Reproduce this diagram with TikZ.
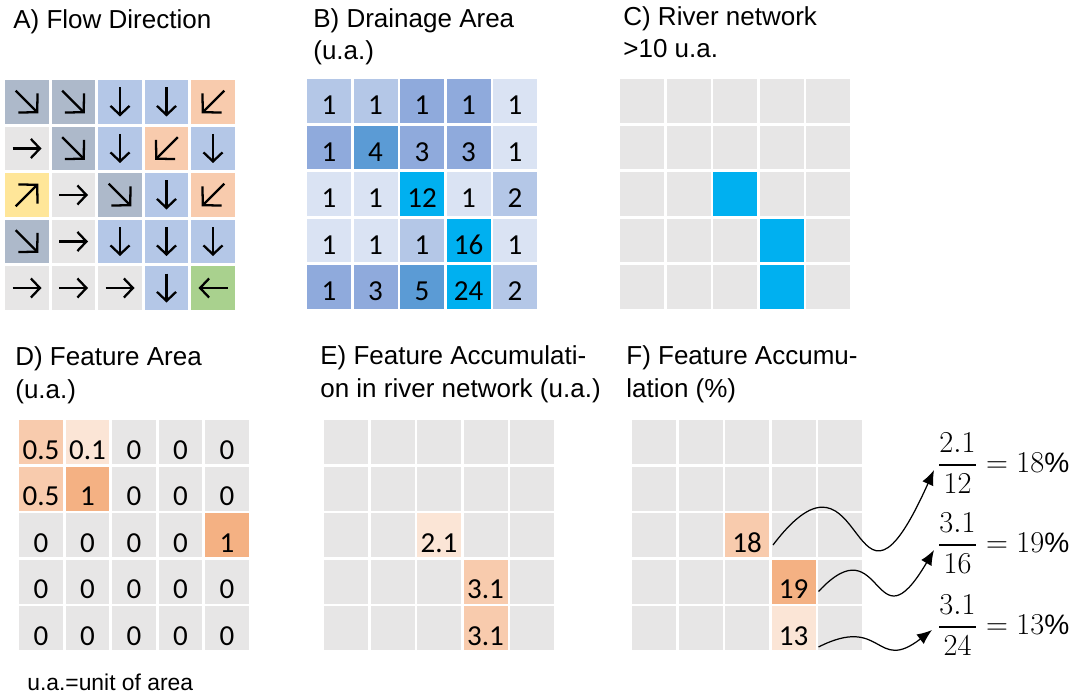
\documentclass[tikz,border=0pt]{standalone}
\usepackage{amsmath}
\usepackage{fontspec}
\setmainfont{Liberation Sans}
\newfontfamily\numfont{Carlito}
\usepackage{tikz}
\usetikzlibrary{arrows.meta}
\definecolor{slate}{RGB}{173,185,202}
\definecolor{blu}{RGB}{180,199,231}
\definecolor{gr}{RGB}{231,230,230}
\definecolor{sal}{RGB}{248,203,173}
\definecolor{yel}{RGB}{255,230,153}
\definecolor{grn}{RGB}{169,209,142}
\definecolor{ba}{RGB}{218,227,243}
\definecolor{bb}{RGB}{180,199,231}
\definecolor{bc}{RGB}{143,170,220}
\definecolor{bd}{RGB}{91,155,213}
\definecolor{cy}{RGB}{0,176,240}
\definecolor{oa}{RGB}{251,229,214}
\definecolor{ob}{RGB}{248,203,173}
\definecolor{oc}{RGB}{244,177,131}

\begin{document}
\begin{tikzpicture}[
  x=0.02cm,y=-0.02cm,
  cell/.style={minimum size=0.88cm,inner sep=0pt,outer sep=0pt,
               font=\numfont\fontsize{16.5}{18}\selectfont},
  bnum/.style={text height=0.56cm,text depth=0pt},
  fnum/.style={text height=0.68cm,text depth=0pt},
  ttl/.style={anchor=base west,align=left,inner sep=0pt,
              font=\fontsize{14.8}{18.4}\selectfont},
  farr/.style={line width=1.3pt,-{Straight Barb[length=1.8mm,width=3.8mm]}},
  darr/.style={line width=1.3pt,-{Straight Barb[length=2.6mm,width=5.4mm]}},
  link/.style={line width=0.7pt,-{Latex[length=0.3cm,width=0.24cm]}},
  eq/.style={anchor=west,inner sep=0pt,font=\fontsize{16}{19}\selectfont},
]
\useasboundingbox (0,0) rectangle (1084,699);
% Titles (anchored on the last line)
\node[ttl] (ta) at (13,29) {A) Flow Direction};
\node[ttl] (tb) at (313,60) {B) Drainage Area\\(u.a.)};
\node[ttl] (tc) at (623,58) {C) River network\\>10 u.a.};
\node[ttl] (td) at (15,398) {D) Feature Area\\(u.a.)};
\node[ttl] (te) at (320,397) {E) Feature Accumulati-\\on in river network (u.a.)};
\node[ttl] (tf) at (626,397) {F) Feature Accumu-\\lation (\%)};
% A) flow direction
\foreach \cc/\ang [count=\i from 0] in {
    slate/45,slate/45,blu/90,blu/90,sal/135,
    gr/0,slate/45,blu/90,sal/135,blu/90,
    yel/-45,gr/0,slate/45,blu/90,sal/135,
    slate/45,gr/0,blu/90,blu/90,blu/90,
    gr/0,gr/0,gr/0,blu/90,grn/180}{
  \pgfmathtruncatemacro\rw{div(\i,5)}
  \pgfmathtruncatemacro\cl{mod(\i,5)}
  \pgfmathtruncatemacro\dg{mod(abs(\ang),90)}
  \node[cell,fill=\cc] (a\rw\cl) at ({27+46.5*\cl},{102+46.5*\rw}) {};
  \ifnum\dg=0
    \draw[farr] ([shift={(\ang:-14.5)}]a\rw\cl.center) -- ([shift={(\ang:14.5)}]a\rw\cl.center);
  \else
    \draw[darr] ([shift={(\ang:-16)}]a\rw\cl.center) -- ([shift={(\ang:16)}]a\rw\cl.center);
  \fi
}
% B) drainage area
\foreach \cc/\v [count=\i from 0] in {
    bb/1,bb/1,bc/1,bc/1,ba/1,
    bc/1,bd/4,bc/3,bc/3,ba/1,
    ba/1,ba/1,cy/12,ba/1,bb/2,
    ba/1,ba/1,bb/1,cy/16,ba/1,
    bc/1,bc/3,bd/5,cy/24,bb/2}{
  \pgfmathtruncatemacro\rw{div(\i,5)}
  \pgfmathtruncatemacro\cl{mod(\i,5)}
  \node[cell,bnum,fill=\cc] (b\rw\cl) at ({329+46.5*\cl},{101+46.5*\rw}) {\v};
}
% C) river network
\foreach \cc [count=\i from 0] in {
    gr,gr,gr,gr,gr, gr,gr,gr,gr,gr, gr,gr,cy,gr,gr,
    gr,gr,gr,cy,gr, gr,gr,gr,cy,gr}{
  \pgfmathtruncatemacro\rw{div(\i,5)}
  \pgfmathtruncatemacro\cl{mod(\i,5)}
  \node[cell,fill=\cc] (c\rw\cl) at ({642+46.5*\cl},{101+46.5*\rw}) {};
}
% D) feature area
\foreach \cc/\v [count=\i from 0] in {
    ob/0.5,oa/0.1,gr/0,gr/0,gr/0,
    ob/0.5,oc/1,gr/0,gr/0,gr/0,
    gr/0,gr/0,gr/0,gr/0,oc/1,
    gr/0,gr/0,gr/0,gr/0,gr/0,
    gr/0,gr/0,gr/0,gr/0,gr/0}{
  \pgfmathtruncatemacro\rw{div(\i,5)}
  \pgfmathtruncatemacro\cl{mod(\i,5)}
  \node[cell,fnum,fill=\cc] (d\rw\cl) at ({41+46.5*\cl},{442+46.5*\rw}) {\v};
}
% E) accumulation (u.a.)
\foreach \cc/\v [count=\i from 0] in {
    gr/{},gr/{},gr/{},gr/{},gr/{},
    gr/{},gr/{},gr/{},gr/{},gr/{},
    gr/{},gr/{},oa/2.1,gr/{},gr/{},
    gr/{},gr/{},gr/{},ob/3.1,gr/{},
    gr/{},gr/{},gr/{},ob/3.1,gr/{}}{
  \pgfmathtruncatemacro\rw{div(\i,5)}
  \pgfmathtruncatemacro\cl{mod(\i,5)}
  \node[cell,fnum,fill=\cc] (e\rw\cl) at ({346+46.5*\cl},{442+46.5*\rw}) {\v};
}
% F) accumulation (%)
\foreach \cc/\v [count=\i from 0] in {
    gr/{},gr/{},gr/{},gr/{},gr/{},
    gr/{},gr/{},gr/{},gr/{},gr/{},
    gr/{},gr/{},ob/18,gr/{},gr/{},
    gr/{},gr/{},gr/{},oc/19,gr/{},
    gr/{},gr/{},gr/{},oa/13,gr/{}}{
  \pgfmathtruncatemacro\rw{div(\i,5)}
  \pgfmathtruncatemacro\cl{mod(\i,5)}
  \node[cell,fnum,fill=\cc] (f\rw\cl) at ({654+46.5*\cl},{442+46.5*\rw}) {\v};
}
% ratios
\node[eq] (eq1) at (937,463) {$\dfrac{2.1}{12} = 18\%$};
\node[eq] (eq2) at (937,543) {$\dfrac{3.1}{16} = 19\%$};
\node[eq] (eq3) at (937,625) {$\dfrac{3.1}{24} = 13\%$};
\draw[link] ([shift={(4,10)}]f22.east) .. controls +(95,-125) and +(-85,190) .. ([shift={(-3,7)}]eq1.west);
\draw[link] ([shift={(3,10)}]f33.east) .. controls +(65,-70) and +(-61,104) .. ([shift={(-3,7)}]eq2.west);
\draw[link] ([shift={(3,19)}]f43.east) .. controls +(65,-33) and +(-57,44) .. ([shift={(-5,5)}]eq3.west);
% note
\node[anchor=base west,inner sep=0pt,font=\fontsize{13}{15}\selectfont] (note) at (27,690) {u.a.=unit of area};
\end{tikzpicture}
\end{document}
